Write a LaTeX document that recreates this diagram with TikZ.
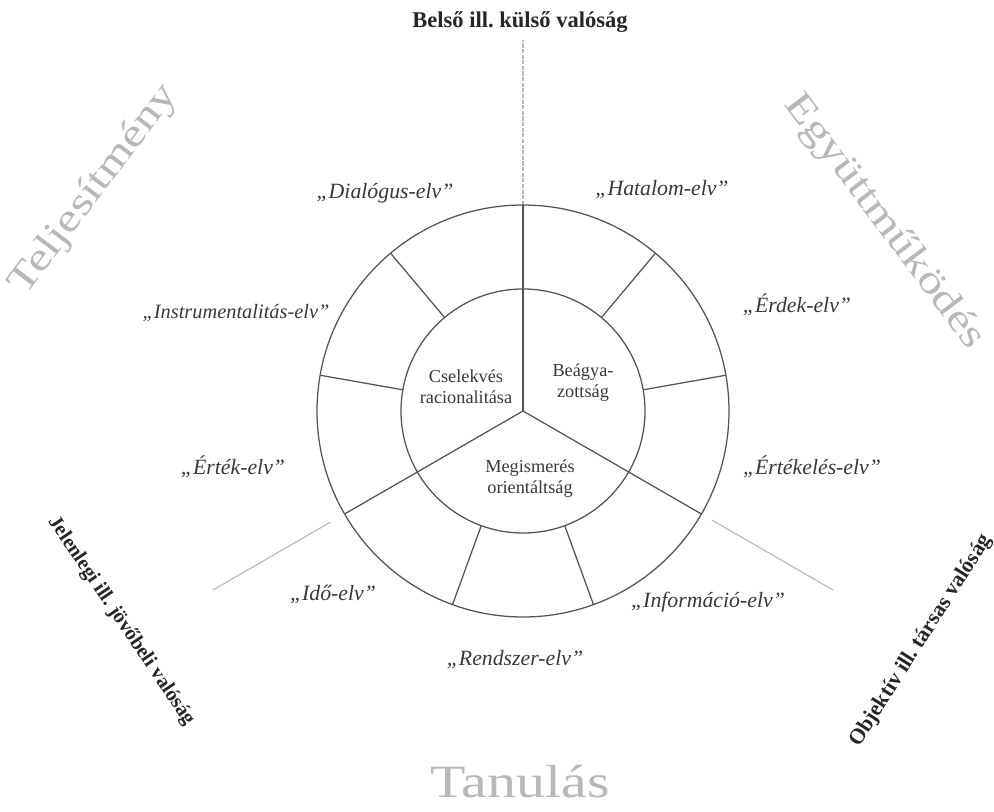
\documentclass[tikz,border=0pt]{standalone}
\usepackage{fontspec}
\setmainfont{Liberation Serif}
\newfontfamily\widefont[FakeStretch=1.25]{Liberation Serif}
\usetikzlibrary{calc}
\frenchspacing

\definecolor{ringgray}{gray}{0.33}
\definecolor{softgray}{gray}{0.72}
\definecolor{labelgray}{gray}{0.22}

\tikzset{
	ring/.style={draw=ringgray, line width=0.9pt},
	guide/.style={draw=softgray, line width=0.8pt},
	elv/.style={font=\itshape\fontsize{15.5}{18}\selectfont, text=labelgray},
	core/.style={font=\fontsize{13}{15}\selectfont, text=labelgray, align=center},
	axis/.style={font=\bfseries\fontsize{14.5}{18}\selectfont, text=black!85},
	field/.style={font=\widefont\fontsize{28}{32}\selectfont, text=softgray}
}

\begin{document}
\begin{tikzpicture}[x=0.025cm,y=0.025cm]

	\useasboundingbox (0,0) rectangle (994,811);

	% Centre
	\coordinate (c) at (523,400);

	% Guides beyond the wheel
	\path (c) ++(90:206) coordinate (topin) (523,771) coordinate (topout);
	\draw[guide, dash pattern=on 3pt off 1pt] (topin) -- (topout);
	\path (c) ++(210:222) coordinate (lin) ++(210:136) coordinate (lout);
	\path (c) ++(330:218) coordinate (rin) ++(330:140) coordinate (rout);
	\draw[guide] (lin) -- (lout);
	\draw[guide] (rin) -- (rout);

	% Wheel
	\draw[ring] (c) circle (206);
	\draw[ring] (c) circle (122);
	\foreach \a in {90,210,330} {
		\path (c) ++(\a:206) coordinate (spoke\a);
		\draw[ring] (c) -- (spoke\a);
	}
	\foreach \a in {10,50,130,170,250,290} {
		\path (c) ++(\a:122) coordinate (in\a) ++(\a:84) coordinate (out\a);
		\draw[ring] (in\a) -- (out\a);
	}

	% Core
	\node[core] (cselekves) at (466,424) {Cselekvés\\racionalitása};
	\node[core] (beagyazottsag) at (583,428) {Beágya-\\zottság};
	\node[core] (megismeres) at (530,332) {Megismerés\\orientáltság};

	% Principles
	\node[elv] (dialogus) at (385,618) {„Dialógus-elv”};
	\node[elv] (hatalom) at (662,621) {„Hatalom-elv”};
	\node[elv, font=\itshape\fontsize{14.5}{18}\selectfont] (instrumentalitas) at (236,498) {„Instrumentalitás-elv”};
	\node[elv] (erdek) at (797,506) {„Érdek-elv”};
	\node[elv] (ertek) at (233,344) {„Érték-elv”};
	\node[elv] (ertekeles) at (812,344) {„Értékelés-elv”};
	\node[elv] (ido) at (333,217) {„Idő-elv”};
	\node[elv] (informacio) at (708,209) {„Információ-elv”};
	\node[elv] (rendszer) at (515,151) {„Rendszer-elv”};

	% Realities
	\node[axis, font=\bfseries\fontsize{16}{18}\selectfont] (belso) at (520,789) {Belső ill. külső valóság};
	\node[axis, rotate=-56] (jelenlegi) at (121,190) {Jelenlegi ill. jövőbeli valóság};
	\node[axis, font=\bfseries\fontsize{15.5}{18}\selectfont, rotate=57.5] (objektiv) at (921,170) {Objektív ill. társas valóság};

	% Fields
	\node[field, rotate=53] (teljesitmeny) at (94,621) {Teljesítmény};
	\node[field, rotate=-53] (egyuttmukodes) at (884,589) {Együttműködés};
	\node[field, font=\widefont\fontsize{33}{36}\selectfont] (tanulas) at (520,29) {Tanulás};

\end{tikzpicture}
\end{document}
